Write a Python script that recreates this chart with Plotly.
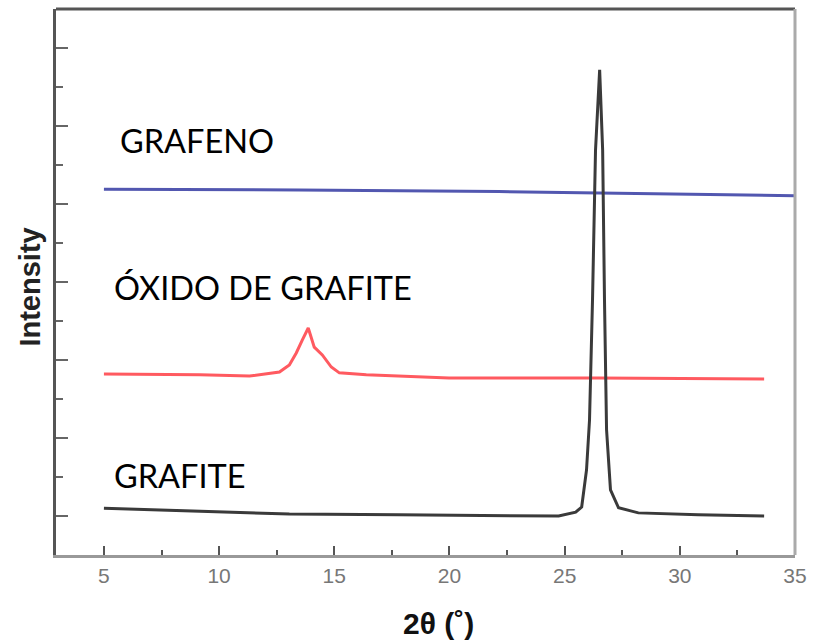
import plotly.graph_objects as go

# GRAFITE (black)
grafite_x = [5, 9.16, 13.05, 17.8, 22.1, 24.74, 25.48, 25.74, 25.95, 26.08, 26.21, 26.34, 26.52,
             26.65, 26.73, 26.82, 26.99, 27.34, 28.2, 30.8, 33.66]
grafite_y = [1.2, 1.13, 1.05, 1.03, 1.0, 1.0, 1.1, 1.23, 2.18, 3.46, 6.54, 10.38, 12.44,
             10.38, 6.54, 3.21, 1.67, 1.21, 1.08, 1.03, 1.0]

# ÓXIDO DE GRAFITE (red)
oxido_x = [5, 9.16, 11.32, 12.62, 13.05, 13.35, 13.61, 13.87, 14.13, 14.48, 14.87, 15.22,
           16.39, 19.98, 26.47, 33.66]
oxido_y = [4.64, 4.62, 4.59, 4.69, 4.87, 5.18, 5.51, 5.82, 5.33, 5.13, 4.82, 4.67,
           4.62, 4.54, 4.54, 4.51]

# GRAFENO (blue)
grafeno_x = [5, 13.48, 22.14, 26.47, 30.8, 35]
grafeno_y = [9.38, 9.36, 9.32, 9.28, 9.23, 9.21]

labels = ["GRAFENO", "ÓXIDO DE GRAFITE", "GRAFITE"]
label_x = [5.62, 5.33, 5.33]
label_y = [10.64, 6.87, 2.05]

x_ticks = [5, 10, 15, 20, 25, 30, 35]

fig = go.Figure()
fig.add_trace(go.Scatter(x=grafeno_x, y=grafeno_y, mode="lines",
                         line=dict(color="#5257b0", width=3), hoverinfo="skip"))
fig.add_trace(go.Scatter(x=oxido_x, y=oxido_y, mode="lines",
                         line=dict(color="#ff5a60", width=3), hoverinfo="skip"))
fig.add_trace(go.Scatter(x=grafite_x, y=grafite_y, mode="lines",
                         line=dict(color="#3a3a3a", width=3), hoverinfo="skip"))

for t, lx, ly in zip(labels, label_x, label_y):
    fig.add_annotation(x=lx, y=ly, text=t, showarrow=False, xanchor="left", yanchor="middle",
                       font=dict(family="Lato", size=32.5, color="#000"))

fig.add_annotation(x=0.518, y=-0.16, xref="paper", yref="paper", text="<b>2θ (˚)</b>",
                   showarrow=False, font=dict(family="Arial", size=30, color="#111"))
fig.add_annotation(x=-0.06, y=0.491, xref="paper", yref="paper", text="<b>Intensity</b>",
                   textangle=-90, showarrow=False, font=dict(family="Arial", size=29, color="#222"))

# top and right frame lines
fig.add_shape(type="line", xref="paper", yref="paper", x0=0, x1=1, y0=1, y1=1,
              line=dict(color="#555", width=3))
fig.add_shape(type="line", xref="paper", yref="paper", x0=1, x1=1, y0=0, y1=1,
              line=dict(color="#aaa", width=3))

fig.update_layout(
    width=816, height=643,
    margin=dict(l=56, r=18, t=9, b=88),
    paper_bgcolor="white", plot_bgcolor="white",
    showlegend=False,
    xaxis=dict(range=[2.92, 35], tickvals=x_ticks, ticks="inside", ticklen=9, tickwidth=2,
               tickcolor="#555", showline=True, linecolor="#999", linewidth=3,
               showgrid=False, zeroline=False,
               tickfont=dict(family="Arial", size=21, color="#777"),
               minor=dict(tickvals=[7.5, 12.5, 17.5, 22.5, 27.5, 32.5], ticks="inside",
                          ticklen=5, tickwidth=2, tickcolor="#555")),
    yaxis=dict(range=[0, 14.0], tickvals=[1, 3, 5, 7, 9, 11, 13], ticks="inside", ticklen=12,
               tickwidth=2, tickcolor="#666", showticklabels=False,
               showline=True, linecolor="#555", linewidth=3, showgrid=False, zeroline=False,
               minor=dict(tickvals=[2, 4, 6, 8, 10, 12], ticks="inside", ticklen=7,
                          tickwidth=2, tickcolor="#666")),
)

fig.write_html("out.html")
